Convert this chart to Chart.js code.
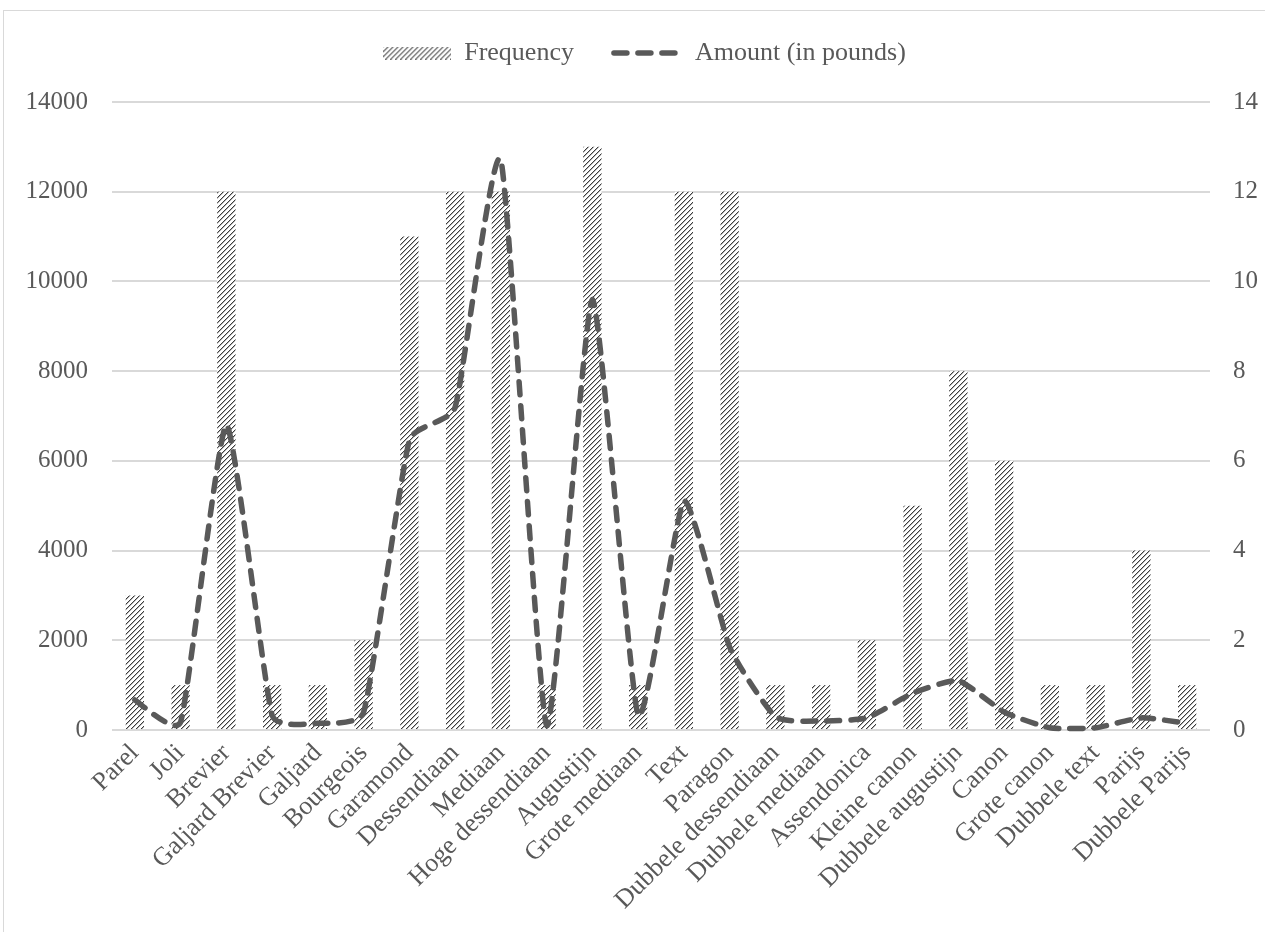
<!DOCTYPE html>
<html>
<head>
<meta charset="utf-8">
<script src="https://cdn.jsdelivr.net/npm/chart.js@4.4.1/dist/chart.umd.min.js"></script>
<style>
  html, body { margin: 0; padding: 0; background: #ffffff; overflow: hidden; }
  #wrap { position: relative; width: 1265px; height: 932px; }
  #frame { position: absolute; left: 3px; top: 10px; width: 1300px; height: 1000px;
           border: 1px solid #d9d9d9; pointer-events: none; }
  canvas { position: absolute; left: 0; top: 0; }
</style>
</head>
<body>
<div id="wrap">
  <canvas id="chart" width="1265" height="932"></canvas>
  <div id="frame"></div>
</div>
<script>
// Typefaces by size and their frequency of use, with the amount cast in pounds
const categories = ['Parel', 'Joli', 'Brevier', 'Galjard Brevier', 'Galjard', 'Bourgeois',
  'Garamond', 'Dessendiaan', 'Mediaan', 'Hoge dessendiaan', 'Augustijn', 'Grote mediaan',
  'Text', 'Paragon', 'Dubbele dessendiaan', 'Dubbele mediaan', 'Assendonica', 'Kleine canon',
  'Dubbele augustijn', 'Canon', 'Grote canon', 'Dubbele text', 'Parijs', 'Dubbele Parijs'];

const frequency = [3000, 1000, 12000, 1000, 1000, 2000, 11000, 12000, 12000, 1000, 13000, 1000,
  12000, 12000, 1000, 1000, 2000, 5000, 8000, 6000, 1000, 1000, 4000, 1000];

const amountPounds = [0.67, 0.18, 6.8, 0.33, 0.15, 0.4, 6.45, 7.2, 12.7, 0.1, 9.6, 0.33,
  5.1, 1.85, 0.3, 0.2, 0.27, 0.82, 1.1, 0.4, 0.05, 0.05, 0.27, 0.15];

const frequencyTicks = [0, 2000, 4000, 6000, 8000, 10000, 12000, 14000];
const amountTicks = [0, 2, 4, 6, 8, 10, 12, 14];

const TEXT = '#595959';
const GRID = '#d9d9d9';
const FONT = "'Liberation Serif', 'Times New Roman', serif";

// diagonal hatch tile used for the bars
function hatchTile() {
  const c = document.createElement('canvas');
  c.width = 5; c.height = 5;
  const g = c.getContext('2d');
  g.fillStyle = '#ffffff';
  g.fillRect(0, 0, 5, 5);
  for (let i = 0; i < 5; i++) {
    g.fillStyle = '#3c3c3c';
    g.fillRect(i, 4 - i, 1, 1);
    g.fillStyle = '#b4b4b4';
    g.fillRect((i + 1) % 5, 4 - i, 1, 1);
  }
  return c;
}
const tile = hatchTile();
const ctx = document.getElementById('chart').getContext('2d');
const hatch = ctx.createPattern(tile, 'repeat');

// legend swatch for the bar series
function hatchSwatch(w, h) {
  const c = document.createElement('canvas');
  c.width = w; c.height = h;
  const g = c.getContext('2d');
  g.fillStyle = g.createPattern(tile, 'repeat');
  g.fillRect(0, 0, w, h);
  return c;
}
const swatch = hatchSwatch(68, 13);

// extra room under the legend, and a small shift to the right
const legendTweaks = {
  id: 'legendTweaks',
  beforeInit(chart) {
    const lg = chart.legend;
    if (!lg) return;
    const fit = lg.fit;
    lg.fit = function () { fit.call(this); this.height += 26; };
    const draw = lg.draw;
    lg.draw = function () {
      const c = this.ctx;
      c.save();
      c.translate(12, 0);
      draw.call(this);
      c.restore();
    };
  }
};

// gentle cardinal smoothing; control arms are kept short next to short segments
const SMOOTH = 1 / 12;
const smoothLine = {
  id: 'smoothLine',
  afterDatasetsUpdate(chart) {
    chart.data.datasets.forEach((ds, i) => {
      if (ds.type !== 'line') return;
      const meta = chart.getDatasetMeta(i);
      const pts = meta.data;
      const n = pts.length;
      const dist = (a, b) => Math.hypot(b.x - a.x, b.y - a.y);
      for (let k = 0; k < n; k++) {
        const p0 = pts[Math.max(k - 1, 0)];
        const p1 = pts[k];
        const p2 = pts[Math.min(k + 1, n - 1)];
        const tx = (p2.x - p0.x) * SMOOTH;
        const ty = (p2.y - p0.y) * SMOOTH;
        const len = Math.hypot(tx, ty) || 1;
        const a1 = Math.min(1, 0.3 * dist(p0, p1) / len);
        const a2 = Math.min(1, 0.3 * dist(p1, p2) / len);
        p1.cp1x = p1.x - tx * a1; p1.cp1y = p1.y - ty * a1;
        p1.cp2x = p1.x + tx * a2; p1.cp2y = p1.y + ty * a2;
      }
      meta.dataset._pointsUpdated = true;
    });
  }
};

new Chart(ctx, {
  data: {
    labels: categories,
    datasets: [
      {
        type: 'bar',
        label: 'Frequency',
        data: frequency,
        yAxisID: 'y',
        backgroundColor: hatch,
        borderWidth: 0,
        categoryPercentage: 1,
        barPercentage: 0.4,
        order: 2
      },
      {
        type: 'line',
        label: 'Amount (in pounds)',
        data: amountPounds,
        yAxisID: 'y1',
        borderColor: '#595959',
        backgroundColor: '#595959',
        borderWidth: 5.5,
        borderDash: [13, 11],
        borderCapStyle: 'round',
        tension: 0.4,
        pointRadius: 0,
        fill: false,
        clip: 12,
        order: 1
      }
    ]
  },
  options: {
    responsive: false,
    animation: false,
    devicePixelRatio: 1,
    layout: { padding: { top: 0, left: 0, right: 0, bottom: 0 } },
    plugins: {
      tooltip: { enabled: false },
      legend: {
        position: 'top',
        labels: {
          color: TEXT,
          font: { family: FONT, size: 26 },
          usePointStyle: true,
          pointStyleWidth: 68,
          boxHeight: 13,
          padding: 40,
          generateLabels(chart) {
            const items = Chart.defaults.plugins.legend.labels.generateLabels(chart);
            items.sort((a, b) => a.datasetIndex - b.datasetIndex);
            items.forEach(it => {
              if (it.datasetIndex === 0) {
                it.pointStyle = swatch;
              } else {
                it.pointStyle = 'line';
                it.lineWidth = 5.5;
                it.lineDash = [13, 11];
                it.lineCap = 'round';
                it.strokeStyle = '#595959';
              }
            });
            return items;
          }
        }
      }
    },
    scales: {
      x: {
        grid: { display: false },
        border: { display: false },
        ticks: {
          color: TEXT,
          font: { family: FONT, size: 26 },
          autoSkip: false,
          maxRotation: 45,
          minRotation: 45,
          padding: 0
        },
        afterFit(scale) { scale.height = 202; }
      },
      y: {
        position: 'left',
        min: 0,
        max: 14000,
        afterBuildTicks(scale) { scale.ticks = frequencyTicks.map(v => ({ value: v })); },
        grid: { color: GRID, lineWidth: 2, drawTicks: false },
        border: { display: false },
        ticks: {
          color: TEXT,
          font: { family: FONT, size: 25 },
          padding: 24,
          callback: v => String(v)
        },
        afterFit(scale) { scale.width = 112; }
      },
      y1: {
        position: 'right',
        min: 0,
        max: 14,
        afterBuildTicks(scale) { scale.ticks = amountTicks.map(v => ({ value: v })); },
        grid: { display: false, drawTicks: false },
        border: { display: false },
        ticks: {
          color: TEXT,
          font: { family: FONT, size: 25 },
          padding: 23,
          callback: v => String(v)
        },
        afterFit(scale) { scale.width = 55; }
      }
    }
  },
  plugins: [legendTweaks, smoothLine]
});
</script>
</body>
</html>
